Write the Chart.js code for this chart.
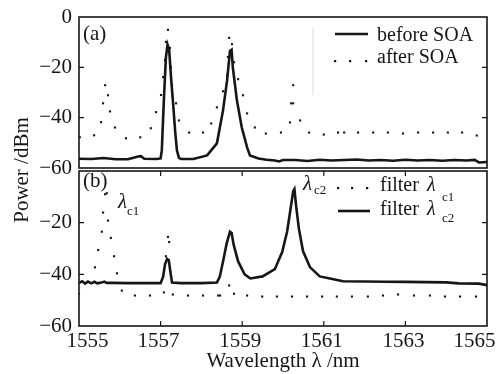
<!DOCTYPE html>
<html>
<head>
<meta charset="utf-8">
<script src="https://cdn.jsdelivr.net/npm/chart.js@4.4.1/dist/chart.umd.min.js"></script>
<style>
  html, body { margin: 0; padding: 0; background: #fff; }
  #wrap { position: relative; width: 499px; height: 374px; }
  #wrap canvas { position: absolute; left: 0; top: 0; }
</style>
</head>
<body>
<div id="wrap">
  <canvas id="chartA" width="499" height="374"></canvas>
  <canvas id="chartB" width="499" height="374"></canvas>
</div>
<script>
// ---- panel (a): spectrum before / after SOA ----
const beforeX = [1555.0, 1555.3, 1555.6, 1555.9, 1556.2, 1556.45, 1556.52, 1556.6, 1556.9, 1557.0,
  1557.03, 1557.08, 1557.13, 1557.17, 1557.21, 1557.26, 1557.3, 1557.36, 1557.4, 1557.45, 1557.5,
  1557.8, 1558.14, 1558.38, 1558.53, 1558.63, 1558.7, 1558.74, 1558.77, 1558.87, 1558.99, 1559.12,
  1559.19, 1559.4, 1559.6, 1559.8, 1559.9, 1560.0, 1560.3, 1560.6, 1560.9, 1561.2, 1561.5, 1561.8,
  1562.1, 1562.4, 1562.7, 1563.0, 1563.3, 1563.6, 1563.9, 1564.2, 1564.5, 1564.7, 1564.8, 1565.0];
const beforeY = [-56.3, -56.4, -56.0, -56.5, -56.5, -55.4, -55.3, -56.3, -56.4, -56.2,
  -53, -33, -16, -11, -13, -25, -33, -46, -53, -56, -56.4,
  -56.4, -55, -50.2, -37.1, -25.1, -13.5, -13, -20, -33.1, -43.9, -51.8,
  -55, -56.2, -56.7, -57.0, -57.4, -56.8, -56.8, -57.2, -56.7, -57.0, -56.8, -56.6,
  -57.0, -56.8, -57.1, -56.7, -57.0, -56.8, -57.1, -56.8, -57.0, -56.8, -57.8, -57.6];

const afterX = [1555.02, 1555.37, 1555.54, 1555.59, 1555.64, 1555.71, 1555.76, 1555.88, 1556.15, 1556.5,
  1556.76, 1556.89, 1557.01, 1557.06, 1557.11, 1557.13, 1557.18, 1557.23, 1557.25, 1557.28,
  1557.38, 1557.45, 1557.7, 1558.04, 1558.24, 1558.38, 1558.53, 1558.63, 1558.65, 1558.68,
  1558.75, 1558.8, 1558.9, 1559.02, 1559.12, 1559.31, 1559.58, 1559.95, 1560.17, 1560.2,
  1560.25, 1560.25, 1560.42, 1560.64, 1561.0, 1561.35, 1561.5, 1561.84, 1562.21, 1562.57,
  1562.94, 1563.31, 1563.68, 1564.04, 1564.39, 1564.75];
const afterY = [-47.8, -47, -41.8, -34.3, -27.1, -31.1, -37.5, -43.9, -48.2, -47.8,
  -44.2, -37.8, -31, -23.9, -17.1, -9.9, -5.1, -12.3, -19.9, -27.1,
  -34.3, -41.1, -45.9, -45.9, -42.3, -35.9, -29.5, -23.1, -15.9, -8.3,
  -10.8, -18, -24.7, -31.1, -38.3, -43.9, -46.3, -45.9, -41.9, -34.3,
  -34.3, -27.1, -41.1, -45.9, -46.7, -45.9, -45.9, -45.9, -45.9, -45.9,
  -46.3, -45.9, -45.9, -45.9, -45.9, -47.1];

// ---- panel (b): filtered channels ----
const filter1X = [1555.0, 1555.39, 1555.47, 1555.56, 1555.59, 1555.64, 1555.68, 1555.71, 1555.78, 1555.86,
  1555.93, 1556.05, 1556.37, 1556.74, 1557.08, 1557.13, 1557.18, 1557.21, 1557.3, 1557.67,
  1558.04, 1558.41, 1558.46, 1558.68, 1558.8, 1559.12, 1559.49, 1559.85, 1560.22, 1560.59,
  1560.96, 1561.32, 1561.69, 1562.08, 1562.45, 1562.82, 1563.21, 1563.6, 1563.97, 1564.34, 1564.73];
const filter1Y = [-47.5, -37.3, -30.6, -23.5, -16.1, -9.0, -8.6, -19.2, -25.9, -33,
  -39.6, -46.3, -48.2, -48.2, -47, -33, -25.5, -27.5, -47.8, -48.2,
  -48.2, -48.2, -48.2, -44.3, -47.5, -48.2, -48.6, -48.6, -48.6, -48.6,
  -48.6, -48.6, -48.6, -48.6, -48.2, -47.8, -48.2, -48.2, -48.6, -48.6, -48.6];

const filter2X = [1555.0, 1555.08, 1555.15, 1555.22, 1555.3, 1555.38, 1555.45, 1555.55, 1555.62, 1555.68,
  1555.8, 1556.2, 1556.6, 1557.0, 1557.06, 1557.11, 1557.16, 1557.2, 1557.24, 1557.28, 1557.5,
  1558.0, 1558.38, 1558.45, 1558.53, 1558.62, 1558.7, 1558.74, 1558.79, 1558.9, 1559.06,
  1559.2, 1559.5, 1559.8, 1559.98, 1560.1, 1560.15, 1560.25, 1560.28, 1560.32, 1560.39,
  1560.49, 1560.66, 1560.9, 1561.15, 1561.47, 1562.0, 1562.5, 1563.0, 1563.5, 1564.0,
  1564.3, 1564.8, 1565.0];
const filter2Y = [-43.3, -42.7, -43.6, -42.8, -43.5, -42.9, -43.5, -43.2, -42.8, -43.3,
  -43.3, -43.4, -43.4, -43.4, -41, -36, -34, -34.5, -39, -43.2, -43.4,
  -43.4, -43.2, -41, -35, -28, -23.5, -24, -28.5, -35, -40,
  -41.6, -40.8, -38, -31.4, -23.5, -18.4, -7.8, -7, -13.3, -22.4,
  -31, -37.2, -40.8, -41.6, -42.7, -42.8, -42.9, -42.9, -43, -43.1,
  -43.5, -43.6, -44.2];

const xTicks = { min: 1555, max: 1565, step: 2 };
const yTicks = { min: -60, max: 0, step: 20 };

const FONT = "'Liberation Serif', 'Times New Roman', serif";
const INK = "#161616";
const FIG = "\u2007\u2007"; // figure spaces, pull the end labels inside the frame

function pts(xs, ys) {
    return xs.map((x, i) => ({ x: x, y: ys[i] }));
}

function solid(label, xs, ys) {
    return { label: label, data: pts(xs, ys), showLine: true, borderColor: INK,
        borderWidth: 2.6, pointRadius: 0, tension: 0 };
}

function dotted(label, xs, ys) {
    return { label: label, data: pts(xs, ys), showLine: false, pointStyle: "rect",
        pointRadius: 1.5, backgroundColor: INK, borderWidth: 0 };
}

function minus(v) {
    return v < 0 ? "\u2212" + Math.abs(v) : String(v);
}

function xLabel(v) {
    if (v === xTicks.min) return FIG + v;
    if (v === xTicks.max) return v + FIG;
    return String(v);
}

function text(ctx, s, x, y, size, italic, align) {
    ctx.font = (italic ? "italic " : "") + size + "px " + FONT;
    ctx.textAlign = align || "left";
    ctx.textBaseline = "middle";
    ctx.fillStyle = INK;
    ctx.fillText(s, x, y);
}

// box round the plot area and inward ticks, like the original figure
function drawFrame(chart, withXTicks) {
    const { ctx, chartArea: a, scales } = chart;
    ctx.save();
    ctx.strokeStyle = INK;
    ctx.lineWidth = 1.6;
    ctx.strokeRect(a.left, a.top, a.right - a.left, a.bottom - a.top);
    ctx.lineWidth = 1.2;
    ctx.beginPath();
    scales.y.ticks.forEach(t => {
        const py = scales.y.getPixelForValue(t.value);
        if (py <= a.top + 1 || py >= a.bottom - 1) return;
        ctx.moveTo(a.left, py); ctx.lineTo(a.left + 5, py);
        ctx.moveTo(a.right, py); ctx.lineTo(a.right - 5, py);
    });
    if (withXTicks) {
        scales.x.ticks.forEach(t => {
            const px = scales.x.getPixelForValue(t.value);
            if (px <= a.left + 1 || px >= a.right - 1) return;
            ctx.moveTo(px, a.top); ctx.lineTo(px, a.top + 5);
            ctx.moveTo(px, a.bottom); ctx.lineTo(px, a.bottom - 5);
        });
    }
    ctx.stroke();
    ctx.restore();
}

function makeOptions(isTop) {
    return {
        responsive: false,
        animation: false,
        events: [],
        layout: { padding: isTop ? { top: 17, bottom: 206, left: 0, right: 12 }
                                 : { top: 171, bottom: 0, left: 0, right: 12 } },
        plugins: { legend: { display: false }, tooltip: { enabled: false } },
        scales: {
            x: {
                type: "linear",
                display: !isTop,
                min: xTicks.min,
                max: xTicks.max,
                ticks: { stepSize: xTicks.step, padding: 3, labelOffset: -2, maxRotation: 0,
                    autoSkip: false, color: INK, callback: xLabel,
                    font: { family: FONT, size: 21 } },
                grid: { display: false, drawTicks: false },
                border: { display: false },
                title: { display: true, text: "Wavelength \u03bb /nm", color: INK,
                    font: { family: FONT, size: 21 }, padding: { top: 0, bottom: 0 } },
                afterFit: s => {
                    if (isTop) return;
                    s.height = 48; s.paddingLeft = 0; s.paddingRight = 0;
                }
            },
            y: {
                min: yTicks.min,
                max: yTicks.max,
                afterBuildTicks: s => {
                    if (!isTop) s.ticks = s.ticks.filter(t => t.value !== 0);
                },
                ticks: { stepSize: yTicks.step, padding: 7, color: INK, callback: minus,
                    font: { family: FONT, size: 21 } },
                grid: { display: false, drawTicks: false },
                border: { display: false },
                afterFit: s => { s.width = 79; s.paddingTop = 0; s.paddingBottom = 0; }
            }
        }
    };
}

document.addEventListener("DOMContentLoaded", () => {

    // ============================
    // PANEL (a)
    // ============================
    new Chart(document.getElementById("chartA"), {
        type: "scatter",
        data: { datasets: [
            solid("before SOA", beforeX, beforeY),
            dotted("after SOA", afterX, afterY)
        ] },
        options: makeOptions(true),
        plugins: [{
            id: "decorA",
            afterDraw(chart) {
                const ctx = chart.ctx;
                drawFrame(chart, false);
                ctx.save();
                text(ctx, "(a)", 83, 34, 21);
                // legend
                ctx.strokeStyle = "#dcdcdc"; ctx.lineWidth = 1;
                ctx.beginPath(); ctx.moveTo(313, 28); ctx.lineTo(313, 95); ctx.stroke();
                ctx.strokeStyle = INK; ctx.lineWidth = 2.6;
                ctx.beginPath(); ctx.moveTo(335, 34); ctx.lineTo(368, 34); ctx.stroke();
                text(ctx, "before SOA", 377, 36, 20);
                ctx.fillStyle = INK;
                [335, 350, 366].forEach(x => ctx.fillRect(x - 1, 60, 2.2, 2.2));
                text(ctx, "after SOA", 377, 58, 20);
                ctx.restore();
            }
        }]
    });

    // ============================
    // PANEL (b)
    // ============================
    new Chart(document.getElementById("chartB"), {
        type: "scatter",
        data: { datasets: [
            dotted("filter \u03bbc1", filter1X, filter1Y),
            solid("filter \u03bbc2", filter2X, filter2Y)
        ] },
        options: makeOptions(false),
        plugins: [{
            id: "decorB",
            afterDraw(chart) {
                const ctx = chart.ctx;
                drawFrame(chart, true);
                ctx.save();
                text(ctx, "(b)", 83, 181, 21);
                text(ctx, "\u03bb", 118, 202, 21, true);
                text(ctx, "c1", 127, 212, 13);
                text(ctx, "\u03bb", 303, 184, 21, true);
                text(ctx, "c2", 314, 191, 13);
                // legend
                ctx.fillStyle = INK;
                [338, 352, 367].forEach(x => ctx.fillRect(x - 1, 187, 2.2, 2.2));
                text(ctx, "filter", 380, 186, 20);
                text(ctx, "\u03bb", 427, 186, 20, true);
                text(ctx, "c1", 442, 198, 13);
                ctx.strokeStyle = INK; ctx.lineWidth = 2.6;
                ctx.beginPath(); ctx.moveTo(338, 211); ctx.lineTo(370, 211); ctx.stroke();
                text(ctx, "filter", 380, 210, 20);
                text(ctx, "\u03bb", 427, 210, 20, true);
                text(ctx, "c2", 442, 219, 13);
                // shared y title
                ctx.translate(22, 170);
                ctx.rotate(-Math.PI / 2);
                text(ctx, "Power /dBm", 0, 0, 21, false, "center");
                ctx.restore();
            }
        }]
    });

});
</script>
</body>
</html>
